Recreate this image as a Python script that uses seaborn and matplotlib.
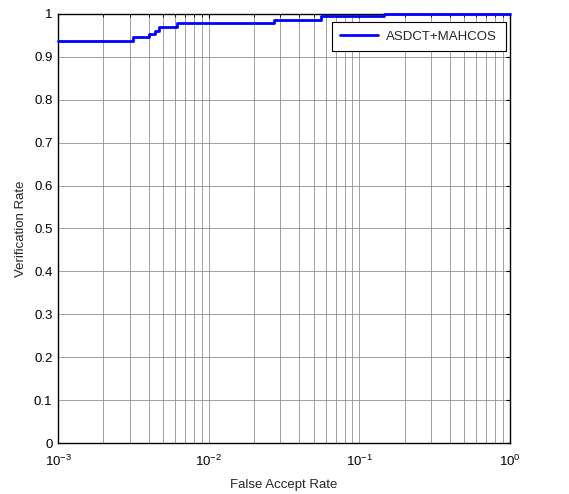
import matplotlib
matplotlib.use("Agg")
import matplotlib.pyplot as plt
import seaborn as sns
import pandas as pd
import numpy as np
from matplotlib.ticker import LogLocator, FixedLocator, NullFormatter

far = [1e-3, 3.14e-3, 4.0e-3, 4.4e-3, 4.7e-3, 6.2e-3, 2.7e-2, 5.6e-2, 0.147, 1.0]
vr = [0.936, 0.946, 0.952, 0.960, 0.970, 0.978, 0.986, 0.994, 1.0, 1.0]
series_name = "ASDCT+MAHCOS"
y_ticks = [0, 0.1, 0.2, 0.3, 0.4, 0.5, 0.6, 0.7, 0.8, 0.9, 1]
y_labels = ["0", "0.1", "0.2", "0.3", "0.4", "0.5", "0.6", "0.7", "0.8", "0.9", "1"]

sns.set_style("white")
plt.rcParams['font.family'] = ['Liberation Sans', 'DejaVu Sans']
plt.rcParams['mathtext.fontset'] = 'custom'
plt.rcParams['mathtext.rm'] = 'Liberation Sans'
plt.rcParams['mathtext.it'] = 'Liberation Sans'

FS = 9.5

df = pd.DataFrame({"FAR": far, "VR": vr, "method": series_name})

fig = plt.figure(figsize=(5.69, 4.94), dpi=100)
ax = fig.add_axes([0.102, 0.103, 0.794, 0.869])

ax.set_xscale("log")
ax.set_xlim(1e-3, 1)
ax.set_ylim(0, 1)

ax.xaxis.set_major_locator(LogLocator(base=10, numticks=10))
ax.xaxis.set_minor_locator(LogLocator(base=10, subs=np.arange(2, 10), numticks=20))
ax.xaxis.set_minor_formatter(NullFormatter())
ax.yaxis.set_major_locator(FixedLocator(y_ticks))
ax.set_yticklabels(y_labels)
ax.grid(True, which="major", axis="both", color="#909090", linewidth=0.6, linestyle="-")
ax.grid(True, which="minor", axis="x", color="#909090", linewidth=0.6, linestyle="-")
ax.set_axisbelow(True)

sns.lineplot(data=df, x="FAR", y="VR", hue="method", palette=["#0000ff"],
             drawstyle="steps-post", estimator=None, sort=False,
             linewidth=2, ax=ax)
for ln in ax.get_lines():
    ln.set_clip_on(False)
    ln.set_zorder(5)

ax.tick_params(which="both", direction="in", top=True, right=True,
               labelsize=FS, colors="black")
ax.tick_params(which="major", length=3, width=0.8)
ax.tick_params(which="minor", length=2, width=0.6)
ax.tick_params(axis="x", which="major", pad=8)
ax.tick_params(axis="y", which="major", pad=4)
for s in ax.spines.values():
    s.set_color("black")
    s.set_linewidth(1.0)
    s.set_zorder(4)

ax.set_xlabel("False Accept Rate", fontsize=FS, labelpad=7)
ax.set_ylabel("Verification Rate", fontsize=FS, labelpad=5)

leg = ax.legend(loc="upper right", fontsize=FS, frameon=True, fancybox=False,
                edgecolor="black", framealpha=1, borderpad=0.65,
                borderaxespad=0, handlelength=2.9, handletextpad=0.6,
                bbox_to_anchor=(0.991, 0.981))
leg.get_frame().set_linewidth(0.8)
for h in leg.get_lines():
    h.set_linewidth(2)

fig.savefig("out.png", dpi=100, facecolor="white")
